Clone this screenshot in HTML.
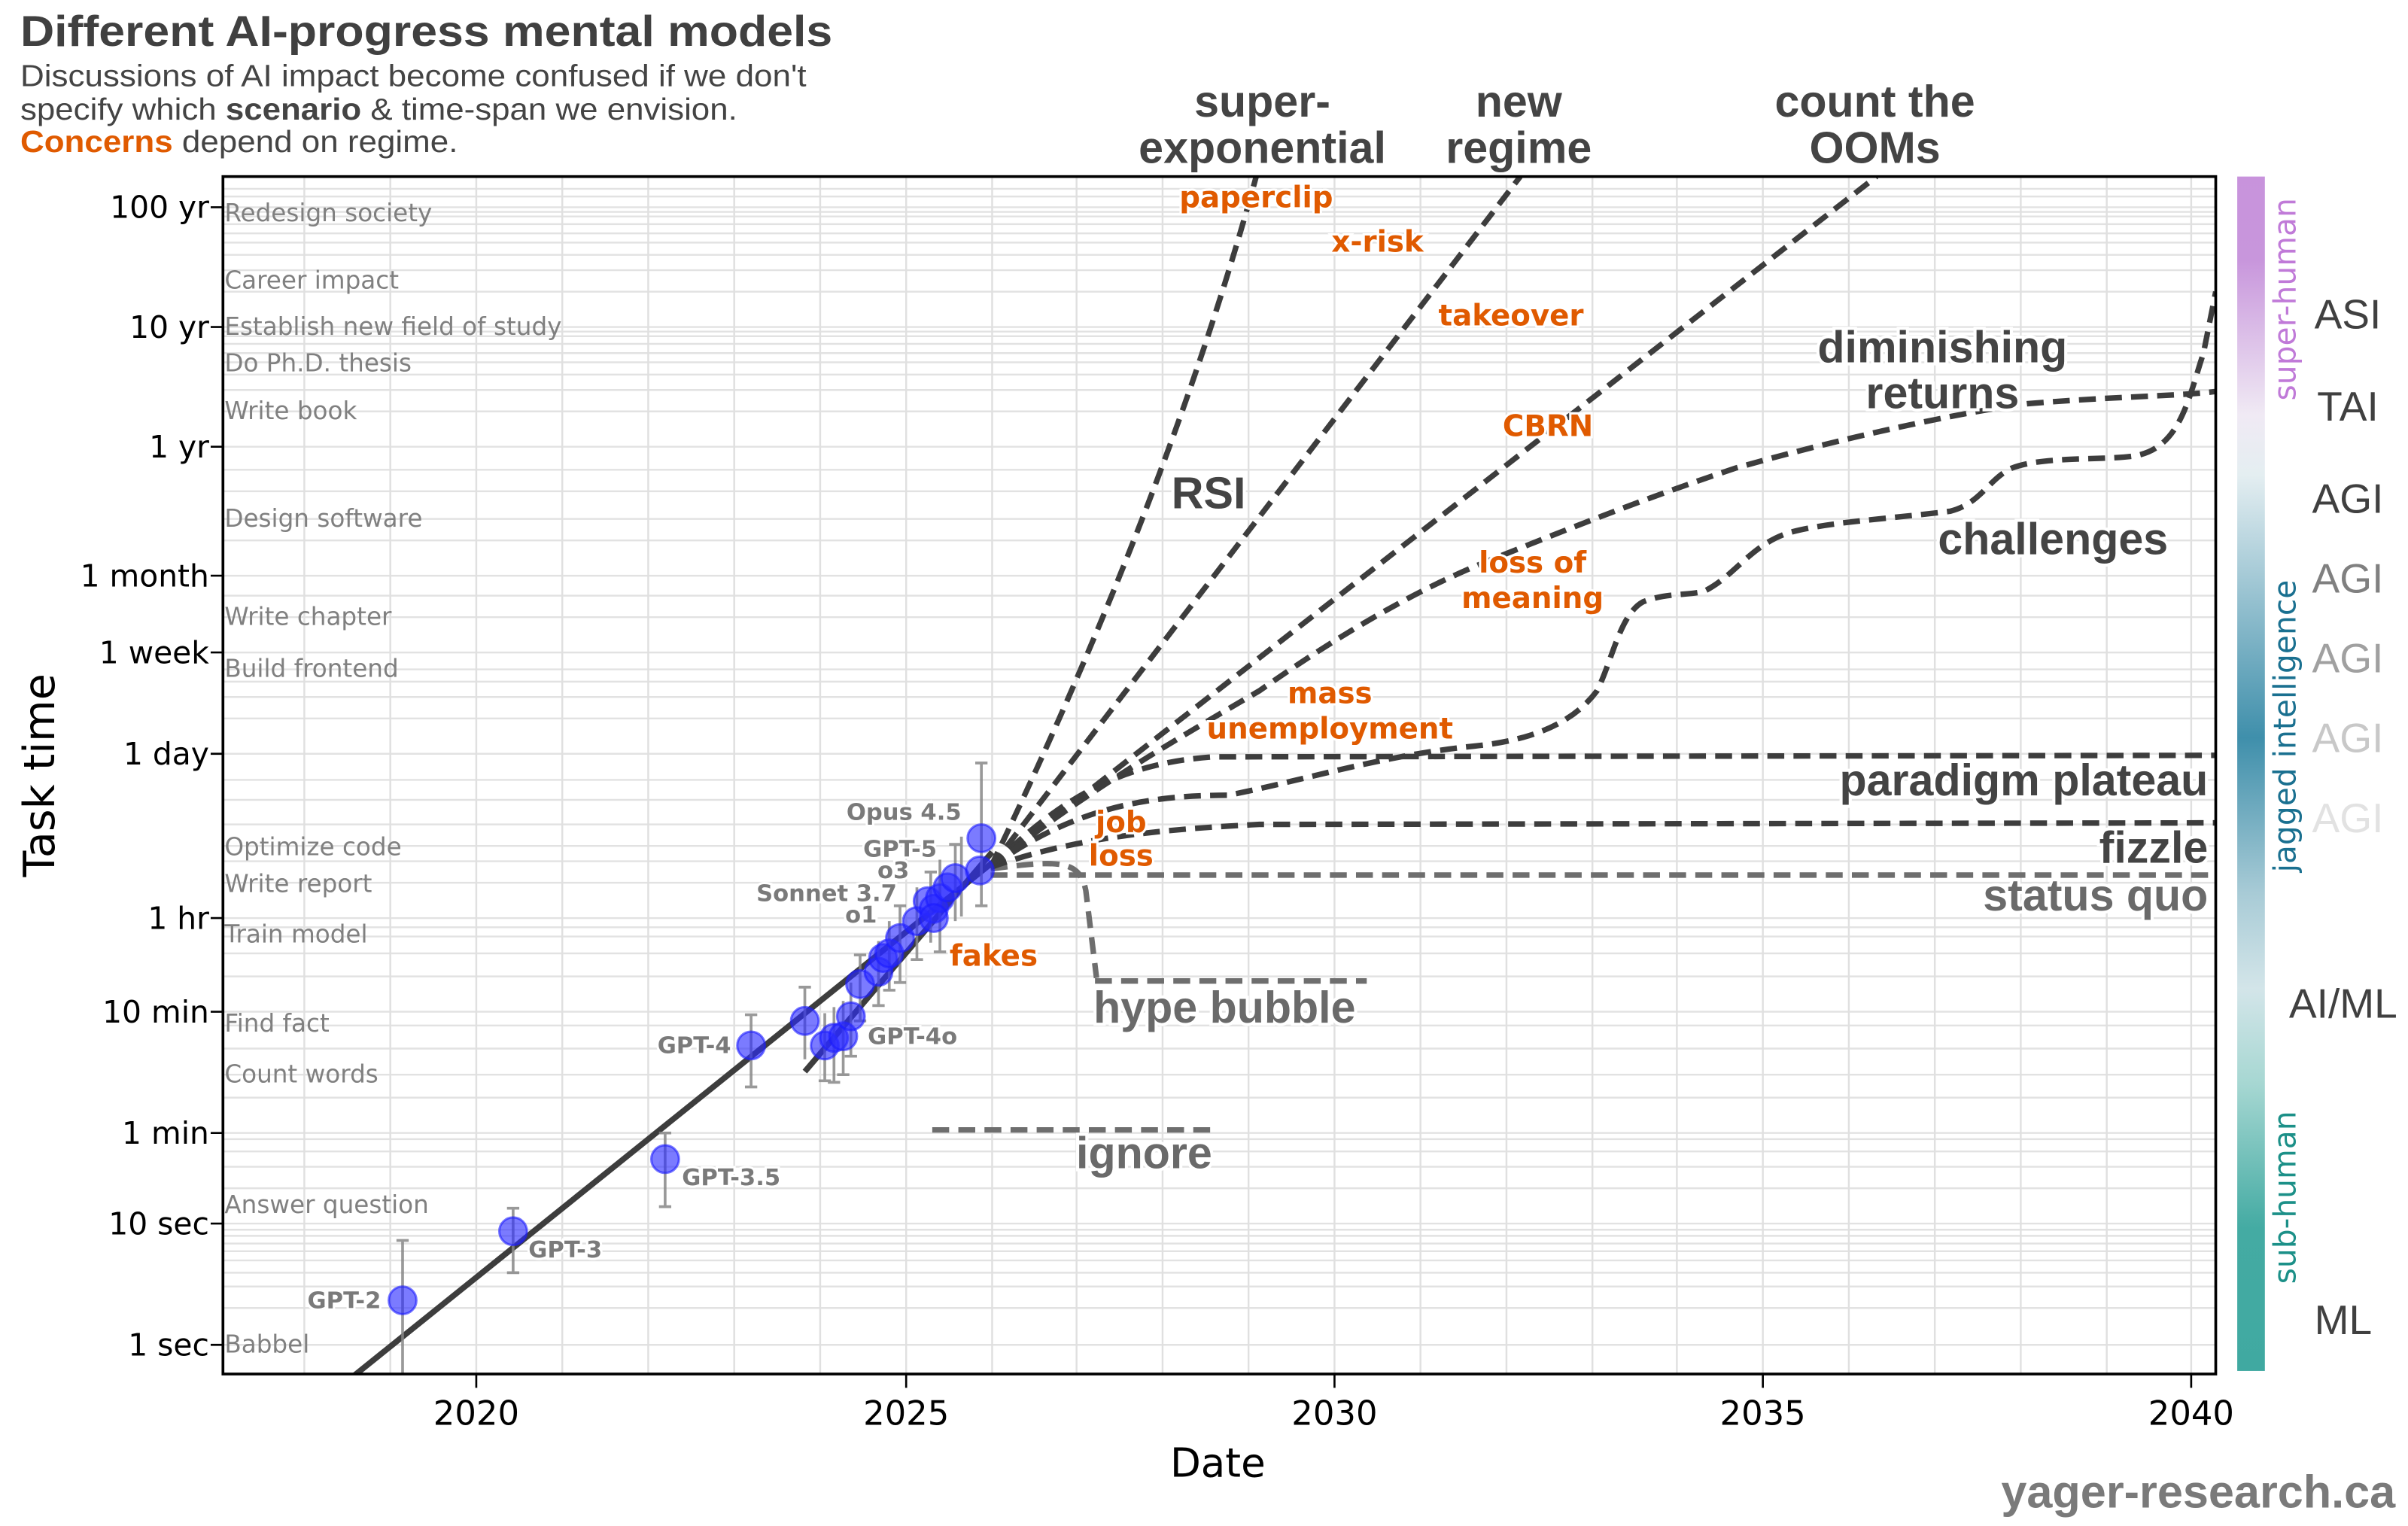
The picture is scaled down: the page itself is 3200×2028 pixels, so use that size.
<!DOCTYPE html>
<html><head><meta charset="utf-8"><style>
html,body{margin:0;padding:0;background:#fff}
svg{display:block;font-family:"Liberation Sans",sans-serif}
.dv{font-family:"DejaVu Sans",sans-serif}
.tk{font-size:20px;fill:#000;font-family:"DejaVu Sans",sans-serif}
.task{font-size:16px;fill:#808080;font-family:"DejaVu Sans",sans-serif}
.sc{font-size:29px;font-weight:bold;fill:#444;stroke:#fff;stroke-width:4px;paint-order:stroke}
.scg{font-size:29px;font-weight:bold;fill:#6a6a6a;stroke:#fff;stroke-width:4px;paint-order:stroke}
.or{font-size:19px;font-weight:bold;fill:#e05a00;stroke:#fff;stroke-width:3px;paint-order:stroke;font-family:"DejaVu Sans",sans-serif}
.md{font-size:15px;font-weight:bold;fill:#7a7a7a;stroke:#fff;stroke-width:3px;paint-order:stroke;font-family:"DejaVu Sans",sans-serif}
.dl{fill:none;stroke:#3d3d3d;stroke-width:3.6;stroke-dasharray:11 6}
.dg{fill:none;stroke:#6e6e6e;stroke-width:3.6;stroke-dasharray:11 6}
.eb{stroke:#888;stroke-width:1.8;opacity:.85}
.pt{fill:#2a2aff;fill-opacity:.62;stroke:#1a1aff;stroke-opacity:.6;stroke-width:1.5}
.ag{font-size:27px;text-anchor:middle}
</style></head><body>
<svg width="3200" height="2028" viewBox="0 0 1568 994" xmlns="http://www.w3.org/2000/svg">
<defs>
<linearGradient id="cb" x1="0" y1="0" x2="0" y2="1">
<stop offset="0" stop-color="#c893dc"/>
<stop offset="0.07" stop-color="#c896dc"/>
<stop offset="0.2" stop-color="#f0eaf4"/>
<stop offset="0.25" stop-color="#e4eef1"/>
<stop offset="0.47" stop-color="#3f8fab"/>
<stop offset="0.6" stop-color="#a8cbd6"/>
<stop offset="0.68" stop-color="#d3e5e9"/>
<stop offset="0.76" stop-color="#a6d7d2"/>
<stop offset="0.88" stop-color="#44aba3"/>
<stop offset="1" stop-color="#40a9a1"/>
</linearGradient>
<clipPath id="pc"><rect x="145" y="115" width="1298" height="780"/></clipPath>
</defs>

<text x="13" y="30" textLength="529" lengthAdjust="spacingAndGlyphs" style="font-size:28px;font-weight:bold;fill:#404040">Different AI-progress mental models</text>
<text x="13" y="56" textLength="512" lengthAdjust="spacingAndGlyphs" style="font-size:20px;fill:#444">Discussions of AI impact become confused if we don't</text>
<text x="13" y="78" textLength="467" lengthAdjust="spacingAndGlyphs" style="font-size:20px;fill:#444">specify which <tspan font-weight="bold">scenario</tspan> &amp; time-span we envision.</text>
<text x="13" y="99" textLength="285" lengthAdjust="spacingAndGlyphs" style="font-size:20px;fill:#444"><tspan font-weight="bold" fill="#e05a00">Concerns</tspan> depend on regime.</text>

<g id="grid" stroke="#e2e2e2" stroke-width="1.2">
<line x1="145" x2="1443" y1="876" y2="876"/><line x1="145" x2="1443" y1="852" y2="852"/><line x1="145" x2="1443" y1="838" y2="838"/><line x1="145" x2="1443" y1="829" y2="829"/><line x1="145" x2="1443" y1="821" y2="821"/><line x1="145" x2="1443" y1="815" y2="815"/><line x1="145" x2="1443" y1="810" y2="810"/><line x1="145" x2="1443" y1="805" y2="805"/><line x1="145" x2="1443" y1="801" y2="801"/>
<line x1="145" x2="1443" y1="797" y2="797"/><line x1="145" x2="1443" y1="774" y2="774"/><line x1="145" x2="1443" y1="760" y2="760"/><line x1="145" x2="1443" y1="750" y2="750"/><line x1="145" x2="1443" y1="742" y2="742"/>
<line x1="145" x2="1443" y1="738" y2="738"/><line x1="145" x2="1443" y1="715" y2="715"/><line x1="145" x2="1443" y1="700" y2="700"/><line x1="145" x2="1443" y1="683" y2="683"/><line x1="145" x2="1443" y1="668" y2="668"/>
<line x1="145" x2="1443" y1="659" y2="659"/><line x1="145" x2="1443" y1="636" y2="636"/><line x1="145" x2="1443" y1="621" y2="621"/><line x1="145" x2="1443" y1="610" y2="610"/><line x1="145" x2="1443" y1="604" y2="604"/>
<line x1="145" x2="1443" y1="598" y2="598"/><line x1="145" x2="1443" y1="575" y2="575"/><line x1="145" x2="1443" y1="561" y2="561"/><line x1="145" x2="1443" y1="551" y2="551"/><line x1="145" x2="1443" y1="537" y2="537"/><line x1="145" x2="1443" y1="521" y2="521"/><line x1="145" x2="1443" y1="508" y2="508"/>
<line x1="145" x2="1443" y1="491" y2="491"/><line x1="145" x2="1443" y1="468" y2="468"/><line x1="145" x2="1443" y1="454" y2="454"/><line x1="145" x2="1443" y1="444" y2="444"/><line x1="145" x2="1443" y1="436" y2="436"/>
<line x1="145" x2="1443" y1="425" y2="425"/><line x1="145" x2="1443" y1="402" y2="402"/><line x1="145" x2="1443" y1="388" y2="388"/>
<line x1="145" x2="1443" y1="375" y2="375"/><line x1="145" x2="1443" y1="352" y2="352"/><line x1="145" x2="1443" y1="338" y2="338"/><line x1="145" x2="1443" y1="320" y2="320"/><line x1="145" x2="1443" y1="306" y2="306"/>
<line x1="145" x2="1443" y1="291" y2="291"/><line x1="145" x2="1443" y1="268" y2="268"/><line x1="145" x2="1443" y1="254" y2="254"/><line x1="145" x2="1443" y1="244" y2="244"/><line x1="145" x2="1443" y1="236" y2="236"/><line x1="145" x2="1443" y1="230" y2="230"/><line x1="145" x2="1443" y1="224" y2="224"/><line x1="145" x2="1443" y1="219" y2="219"/><line x1="145" x2="1443" y1="216" y2="216"/>
<line x1="145" x2="1443" y1="213" y2="213"/><line x1="145" x2="1443" y1="190" y2="190"/><line x1="145" x2="1443" y1="176" y2="176"/><line x1="145" x2="1443" y1="166" y2="166"/><line x1="145" x2="1443" y1="158" y2="158"/><line x1="145" x2="1443" y1="152" y2="152"/><line x1="145" x2="1443" y1="146" y2="146"/><line x1="145" x2="1443" y1="141" y2="141"/><line x1="145" x2="1443" y1="138" y2="138"/>
<line x1="145" x2="1443" y1="135" y2="135"/><line x1="145" x2="1443" y1="128" y2="128"/><line x1="145" x2="1443" y1="123" y2="123"/>
</g>
<g stroke="#e0e0e0" stroke-width="1.2">
<line x1="198" x2="198" y1="115" y2="895"/><line x1="254" x2="254" y1="115" y2="895"/><line x1="310" x2="310" y1="115" y2="895"/><line x1="366" x2="366" y1="115" y2="895"/><line x1="422" x2="422" y1="115" y2="895"/><line x1="478" x2="478" y1="115" y2="895"/><line x1="534" x2="534" y1="115" y2="895"/><line x1="590" x2="590" y1="115" y2="895"/><line x1="646" x2="646" y1="115" y2="895"/><line x1="701" x2="701" y1="115" y2="895"/><line x1="757" x2="757" y1="115" y2="895"/><line x1="813" x2="813" y1="115" y2="895"/><line x1="869" x2="869" y1="115" y2="895"/><line x1="925" x2="925" y1="115" y2="895"/><line x1="981" x2="981" y1="115" y2="895"/><line x1="1037" x2="1037" y1="115" y2="895"/><line x1="1092" x2="1092" y1="115" y2="895"/><line x1="1148" x2="1148" y1="115" y2="895"/><line x1="1204" x2="1204" y1="115" y2="895"/><line x1="1260" x2="1260" y1="115" y2="895"/><line x1="1316" x2="1316" y1="115" y2="895"/><line x1="1372" x2="1372" y1="115" y2="895"/><line x1="1427" x2="1427" y1="115" y2="895"/>
</g>

<g class="task">
<text x="146" y="144">Redesign society</text>
<text x="146" y="188">Career impact</text>
<text x="146" y="218">Establish new field of study</text>
<text x="146" y="242">Do Ph.D. thesis</text>
<text x="146" y="273">Write book</text>
<text x="146" y="343">Design software</text>
<text x="146" y="407">Write chapter</text>
<text x="146" y="441">Build frontend</text>
<text x="146" y="557">Optimize code</text>
<text x="146" y="581">Write report</text>
<text x="146" y="614">Train model</text>
<text x="146" y="672">Find fact</text>
<text x="146" y="705">Count words</text>
<text x="146" y="790">Answer question</text>
<text x="146" y="881">Babbel</text>
</g>

<g clip-path="url(#pc)">
<path class="dg" d="M607,736 L790,736"/>
<path class="dg" d="M645,566 C690,560 703,560 707,580 L714,637"/>
<path class="dg" d="M713,639 L890,639"/>
<path class="dg" d="M645,570 L1443,570"/>
<path class="dl" d="M645,565 C700,545 760,540 820,537 L1443,536"/>
<path class="dl" d="M645,565 C690,520 730,497 790,493 L1443,492"/>
<path class="dl" d="M645,565 C700,525 750,518 800,518 C850,508 900,492 960,486 C1000,482 1025,470 1040,450 C1050,430 1055,400 1070,392 C1085,386 1100,388 1110,385 C1130,375 1140,355 1165,347 C1190,340 1230,338 1270,333 C1290,328 1295,312 1310,305 C1330,297 1370,300 1390,297 C1420,292 1425,260 1435,230 L1443,190"/>
<path class="dl" d="M645,565 C700,520 760,485 820,450 C870,415 920,385 970,365 C1020,345 1070,325 1130,305 C1200,285 1280,268 1320,263 C1380,258 1420,258 1443,255"/>
<path class="dl" d="M645,565 L1222,115"/>
<path class="dl" d="M645,565 L990,115"/>
<path class="dl" d="M645,565 C700,450 770,290 818,115"/>

<line x1="228" y1="898" x2="646" y2="562" stroke="#3d3d3d" stroke-width="3.8"/>
<line x1="524" y1="698" x2="646" y2="555" stroke="#3d3d3d" stroke-width="3.8"/>

<g class="eb">
<line x1="262" y1="808" x2="262" y2="895"/><line x1="258" y1="808" x2="266" y2="808"/>
<line x1="334" y1="787" x2="334" y2="829"/><line x1="330" y1="787" x2="338" y2="787"/><line x1="330" y1="829" x2="338" y2="829"/>
<line x1="433" y1="738" x2="433" y2="786"/><line x1="429" y1="738" x2="437" y2="738"/><line x1="429" y1="786" x2="437" y2="786"/>
<line x1="489" y1="661" x2="489" y2="708"/><line x1="485" y1="661" x2="493" y2="661"/><line x1="485" y1="708" x2="493" y2="708"/>
<line x1="524" y1="643" x2="524" y2="690"/><line x1="520" y1="643" x2="528" y2="643"/>
<line x1="537" y1="660" x2="537" y2="704"/><line x1="533" y1="704" x2="541" y2="704"/>
<line x1="543" y1="656" x2="543" y2="705"/><line x1="539" y1="705" x2="547" y2="705"/>
<line x1="549" y1="652" x2="549" y2="700"/><line x1="545" y1="700" x2="553" y2="700"/>
<line x1="554" y1="640" x2="554" y2="688"/><line x1="550" y1="688" x2="558" y2="688"/>
<line x1="560" y1="622" x2="560" y2="665"/><line x1="556" y1="622" x2="564" y2="622"/><line x1="556" y1="665" x2="564" y2="665"/>
<line x1="572" y1="613" x2="572" y2="655"/><line x1="568" y1="655" x2="576" y2="655"/>
<line x1="579" y1="600" x2="579" y2="645"/><line x1="575" y1="645" x2="583" y2="645"/>
<line x1="586" y1="590" x2="586" y2="640"/><line x1="582" y1="590" x2="590" y2="590"/><line x1="582" y1="640" x2="590" y2="640"/>
<line x1="597" y1="578" x2="597" y2="625"/><line x1="593" y1="625" x2="601" y2="625"/>
<line x1="606" y1="568" x2="606" y2="614"/><line x1="602" y1="568" x2="610" y2="568"/>
<line x1="612" y1="560" x2="612" y2="620"/><line x1="608" y1="620" x2="616" y2="620"/>
<line x1="622" y1="550" x2="622" y2="600"/><line x1="618" y1="550" x2="626" y2="550"/>
<line x1="626" y1="545" x2="626" y2="597"/>
<line x1="639" y1="497" x2="639" y2="590"/><line x1="635" y1="497" x2="643" y2="497"/><line x1="635" y1="590" x2="643" y2="590"/>
</g>
<g class="pt">
<circle cx="262" cy="847" r="9"/><circle cx="334" cy="802" r="9"/><circle cx="433" cy="755" r="9"/><circle cx="489" cy="681" r="9"/>
<circle cx="524" cy="665" r="9"/><circle cx="537" cy="681" r="9"/><circle cx="543" cy="676" r="9"/><circle cx="549" cy="675" r="9"/><circle cx="554" cy="662" r="9"/>
<circle cx="560" cy="641" r="9"/><circle cx="572" cy="633" r="9"/><circle cx="575" cy="624" r="9"/><circle cx="579" cy="621" r="9"/><circle cx="586" cy="611" r="9"/>
<circle cx="597" cy="600" r="9"/><circle cx="604" cy="587" r="9"/><circle cx="608" cy="592" r="9"/><circle cx="612" cy="585" r="9"/><circle cx="608" cy="598" r="9"/>
<circle cx="617" cy="578" r="9"/><circle cx="622" cy="572" r="9"/><circle cx="638" cy="567" r="9"/><circle cx="639" cy="546" r="9"/>
</g>
</g>

<g class="md">
<text x="248" y="852" text-anchor="end">GPT-2</text>
<text x="344" y="819">GPT-3</text>
<text x="444" y="772">GPT-3.5</text>
<text x="476" y="686" text-anchor="end">GPT-4</text>
<text x="565" y="680">GPT-4o</text>
<text x="571" y="601" text-anchor="end">o1</text>
<text x="584" y="587" text-anchor="end">Sonnet 3.7</text>
<text x="592" y="572" text-anchor="end">o3</text>
<text x="610" y="558" text-anchor="end">GPT-5</text>
<text x="626" y="534" text-anchor="end">Opus 4.5</text>
</g>

<g class="sc" text-anchor="middle">
<text x="822" y="76">super-</text><text x="822" y="106">exponential</text>
<text x="989" y="76">new</text><text x="989" y="106">regime</text>
<text x="1221" y="76">count the</text><text x="1221" y="106">OOMs</text>
<text x="1265" y="236">diminishing</text><text x="1265" y="266">returns</text>
<text x="1337" y="361">challenges</text>
<text x="787" y="331">RSI</text>
<text x="1438" y="518" text-anchor="end">paradigm plateau</text>
<text x="1438" y="562" text-anchor="end">fizzle</text>
</g>
<g class="scg">
<text x="1438" y="593" text-anchor="end">status quo</text>
<text x="712" y="666">hype bubble</text>
<text x="745" y="761" text-anchor="middle">ignore</text>
</g>
<g class="or" text-anchor="middle">
<text x="818" y="135">paperclip</text>
<text x="897" y="164">x-risk</text>
<text x="984" y="212">takeover</text>
<text x="1008" y="284">CBRN</text>
<text x="998" y="373">loss of</text><text x="998" y="396">meaning</text>
<text x="866" y="458">mass</text><text x="866" y="481">unemployment</text>
<text x="730" y="542">job</text><text x="730" y="564">loss</text>
<text x="647" y="629">fakes</text>
</g>

<rect x="145" y="115" width="1298" height="780" fill="none" stroke="#000" stroke-width="1.8"/>
<g stroke="#000" stroke-width="1.3">
<line x1="137" x2="145" y1="876" y2="876"/><line x1="137" x2="145" y1="797" y2="797"/><line x1="137" x2="145" y1="738" y2="738"/><line x1="137" x2="145" y1="659" y2="659"/><line x1="137" x2="145" y1="598" y2="598"/><line x1="137" x2="145" y1="491" y2="491"/><line x1="137" x2="145" y1="425" y2="425"/><line x1="137" x2="145" y1="375" y2="375"/><line x1="137" x2="145" y1="291" y2="291"/><line x1="137" x2="145" y1="213" y2="213"/><line x1="137" x2="145" y1="135" y2="135"/>
<line x1="310" x2="310" y1="895" y2="904"/><line x1="590" x2="590" y1="895" y2="904"/><line x1="869" x2="869" y1="895" y2="904"/><line x1="1148" x2="1148" y1="895" y2="904"/><line x1="1427" x2="1427" y1="895" y2="904"/>
</g>
<g class="tk" text-anchor="end">
<text x="136" y="883">1 sec</text><text x="136" y="804">10 sec</text><text x="136" y="745">1 min</text><text x="136" y="666">10 min</text><text x="136" y="605">1 hr</text><text x="136" y="498">1 day</text><text x="136" y="432">1 week</text><text x="136" y="382">1 month</text><text x="136" y="298">1 yr</text><text x="136" y="220">10 yr</text><text x="136" y="142">100 yr</text>
</g>
<g class="dv" style="font-size:22px" text-anchor="middle">
<text x="310" y="928">2020</text><text x="590" y="928">2025</text><text x="869" y="928">2030</text><text x="1148" y="928">2035</text><text x="1427" y="928">2040</text>
</g>
<text class="dv" x="793" y="962" text-anchor="middle" style="font-size:26px">Date</text>
<text class="dv" transform="translate(35,505) rotate(-90)" text-anchor="middle" style="font-size:28px">Task time</text>
<text x="1560" y="982" text-anchor="end" style="font-size:30px;font-weight:bold;fill:#7a7a7a">yager-research.ca</text>

<rect x="1457" y="115" width="18" height="778" fill="url(#cb)"/>
<text class="dv" transform="translate(1495,195) rotate(-90)" text-anchor="middle" style="font-size:20px;fill:#c07ad8">super-human</text>
<text class="dv" transform="translate(1495,473) rotate(-90)" text-anchor="middle" style="font-size:20px;fill:#1a7090">jagged intelligence</text>
<text class="dv" transform="translate(1495,780) rotate(-90)" text-anchor="middle" style="font-size:20px;fill:#1c9088">sub-human</text>
<g class="ag">
<text x="1529" y="214" fill="#404040">ASI</text>
<text x="1529" y="274" fill="#404040">TAI</text>
<text x="1529" y="334" fill="#404040">AGI</text>
<text x="1529" y="386" fill="#808080">AGI</text>
<text x="1529" y="438" fill="#a0a0a0">AGI</text>
<text x="1529" y="490" fill="#c8c8c8">AGI</text>
<text x="1529" y="542" fill="#e2e2e2">AGI</text>
<text x="1526" y="663" fill="#404040">AI/ML</text>
<text x="1526" y="869" fill="#404040">ML</text>
</g>
</svg>
</body></html>
